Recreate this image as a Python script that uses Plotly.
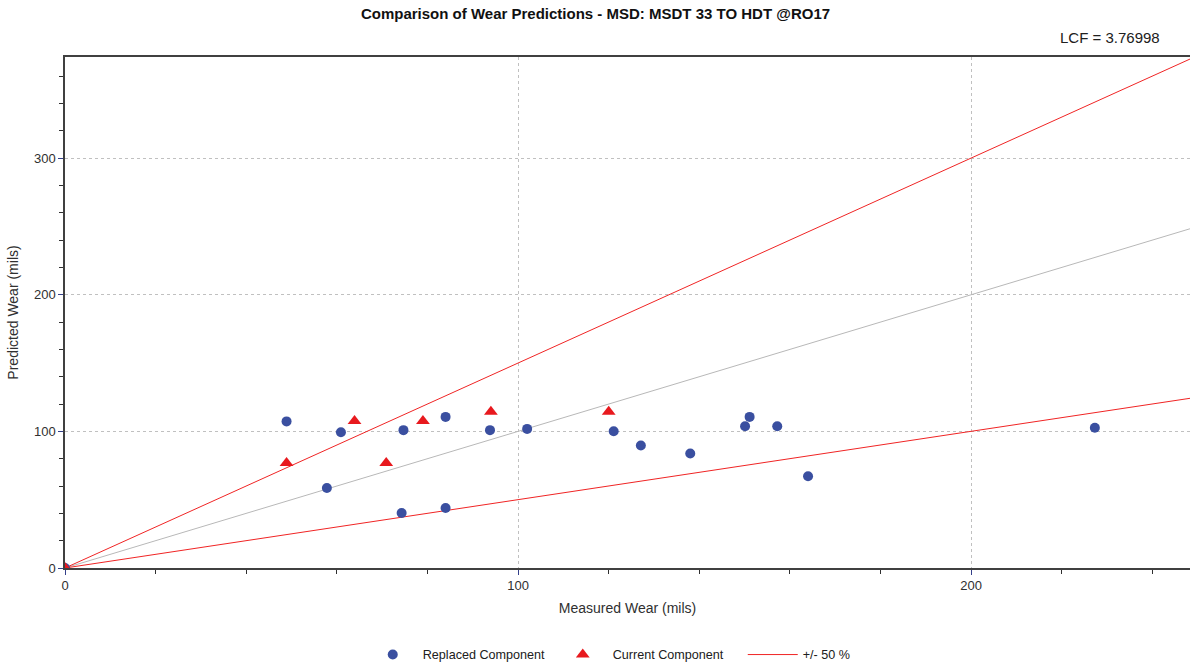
import plotly.graph_objects as go

# measured vs predicted wear (mils)
replaced_x = [0, 48.9, 57.8, 60.9, 74.3, 74.7, 84.0, 84.0, 93.8, 102.0, 121.1, 127.1, 138.0, 150.1, 151.1, 157.2, 164.0, 227.3]
replaced_y = [0, 107.3, 58.5, 99.4, 40.2, 100.9, 110.6, 43.9, 100.9, 101.8, 100.1, 89.6, 83.8, 103.7, 110.6, 103.7, 67.1, 102.6]

current_x = [0, 48.9, 63.9, 70.9, 79.0, 94.0, 120.0]
current_y = [0, 76.9, 107.5, 76.9, 107.5, 114.3, 114.3]

line_x = [0, 248.3]
upper_y = [0, 372.5]   # +50 %
ideal_y = [0, 248.3]
lower_y = [0, 124.2]   # -50 %

title = "Comparison of Wear Predictions - MSD: MSDT 33 TO HDT @RO17"
lcf_text = "LCF = 3.76998"

FONT = "Liberation Sans, Arial, sans-serif"
RED = "#f02424"

fig = go.Figure()

fig.add_trace(go.Scatter(x=line_x, y=ideal_y, mode="lines",
                         line=dict(color="#b8b8b8", width=1), showlegend=False, hoverinfo="skip"))
fig.add_trace(go.Scatter(x=line_x, y=upper_y, mode="lines", name="+/- 50 %", legendgroup="pm",
                         legendrank=3, line=dict(color=RED, width=1)))
fig.add_trace(go.Scatter(x=line_x, y=lower_y, mode="lines", name="+/- 50 %", legendgroup="pm",
                         showlegend=False, line=dict(color=RED, width=1)))

fig.add_trace(go.Scatter(x=replaced_x, y=replaced_y, mode="markers", name="Replaced Component",
                         legendrank=1, marker=dict(symbol="circle", size=10, color="#3a4fa0")))
fig.add_trace(go.Scatter(x=current_x, y=current_y, mode="markers", name="Current Component",
                         legendrank=2, marker=dict(symbol="triangle-up", size=12, color="#e8191e")))

axis_common = dict(
    showline=True, linecolor="#404040", linewidth=1.5,
    showgrid=True, gridcolor="#c0c0c0", griddash="3px,3px", gridwidth=1,
    zeroline=False, ticks="outside", ticklen=5, tickcolor="#34408a",
    tickfont=dict(family=FONT, size=13, color="#303030"),
    dtick=100, tick0=0,
    minor=dict(dtick=20, ticks="outside", ticklen=4, tickcolor="#303030", showgrid=False),
)

fig.update_layout(
    width=1191, height=669,
    margin=dict(l=65, r=1, t=57, b=101, autoexpand=False),
    plot_bgcolor="white", paper_bgcolor="white",
    font=dict(family=FONT, size=12, color="#202020"),
    title=dict(text="<b>" + title + "</b>", x=0.5, xanchor="center", y=0.979, yanchor="middle",
               font=dict(family=FONT, size=15, color="#111111")),
    xaxis=dict(range=[0, 248.3], mirror=True,
               title=dict(text="Measured Wear (mils)", font=dict(family=FONT, size=14, color="#303030"), standoff=11),
               **axis_common),
    yaxis=dict(range=[0, 374], mirror=False,
               title=dict(text="Predicted Wear (mils)", font=dict(family=FONT, size=14, color="#303030"), standoff=12),
               **axis_common),
    legend=dict(orientation="h", x=0.518, xanchor="center", y=-0.17, yanchor="middle",
                font=dict(family=FONT, size=12.6, color="#202020"),
                itemwidth=50, entrywidth=125),
    showlegend=True,
)

fig.add_annotation(text=lcf_text, xref="paper", yref="paper", x=0.975, y=1.018,
                   xanchor="right", yanchor="bottom", showarrow=False,
                   font=dict(family=FONT, size=15, color="#202020"))

# drop the default page margin so the figure sits at the window's top-left corner
fig.write_html("out.html", config={"displayModeBar": False},
               post_script="document.body.style.margin='0';document.body.style.overflow='hidden';")
